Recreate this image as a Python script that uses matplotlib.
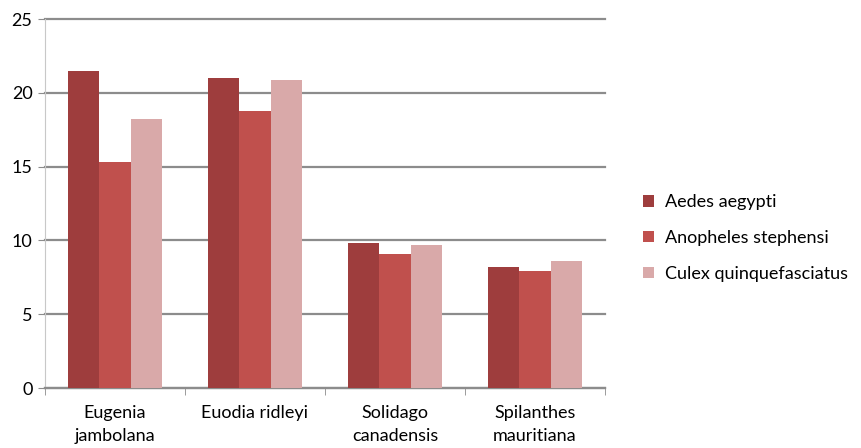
import matplotlib
matplotlib.use("Agg")
import matplotlib.pyplot as plt
import numpy as np
from matplotlib.patches import Patch

plt.rcParams['font.family'] = ['Lato', 'DejaVu Sans']

categories = ["Eugenia\njambolana", "Euodia ridleyi", "Solidago\ncanadensis", "Spilanthes\nmauritiana"]
series_names = ["Aedes aegypti", "Anopheles stephensi", "Culex quinquefasciatus"]
aedes = [21.5, 21.0, 9.8, 8.2]
anopheles = [15.3, 18.8, 9.1, 7.9]
culex = [18.2, 20.9, 9.7, 8.6]
colors = ["#9E3D3D", "#C0504D", "#D9A9A9"]

fig = plt.figure(figsize=(8.62, 4.48), dpi=100)
ax = fig.add_axes([45/862, 1-388/448, 560/862, (388-19)/448])

x = np.arange(len(categories))
w = 0.222
for i, (vals, c) in enumerate(zip([aedes, anopheles, culex], colors)):
    ax.bar(x + (i - 1) * w, vals, width=w, color=c, zorder=3, linewidth=0)

ax.set_xlim(-0.5, 3.5)
ax.set_ylim(0, 25)
ax.set_yticks([0, 5, 10, 15, 20, 25])
ax.yaxis.grid(True, color="#8c8c8c", linewidth=1.6, zorder=0)
for gl in ax.get_ygridlines():
    gl.set_clip_on(False)
ax.set_axisbelow(True)
for s in ["top", "right"]:
    ax.spines[s].set_visible(False)
ax.spines["left"].set_color("#c8c8c8")
ax.spines["bottom"].set_color("#8c8c8c")
ax.spines["bottom"].set_linewidth(1.6)
ax.tick_params(axis="y", length=5, color="#8c8c8c", labelsize=13, pad=4)
ax.set_xticks(x)
ax.set_xticklabels(categories, fontsize=13, linespacing=1.55)
ax.tick_params(axis="x", length=0, pad=12)
ax.set_xticks(np.arange(-0.5, 4.0, 1.0), minor=True)
ax.tick_params(axis="x", which="minor", length=5, color="#8c8c8c")

handles = [Patch(facecolor=c, edgecolor="none") for c in colors]
fig.legend(handles, series_names, loc="center left", bbox_to_anchor=(627/862, 1-238/448),
           frameon=False, fontsize=13, handlelength=0.6, handleheight=0.6,
           labelspacing=1.1, handletextpad=0.6)

fig.savefig("out.png", dpi=100)
